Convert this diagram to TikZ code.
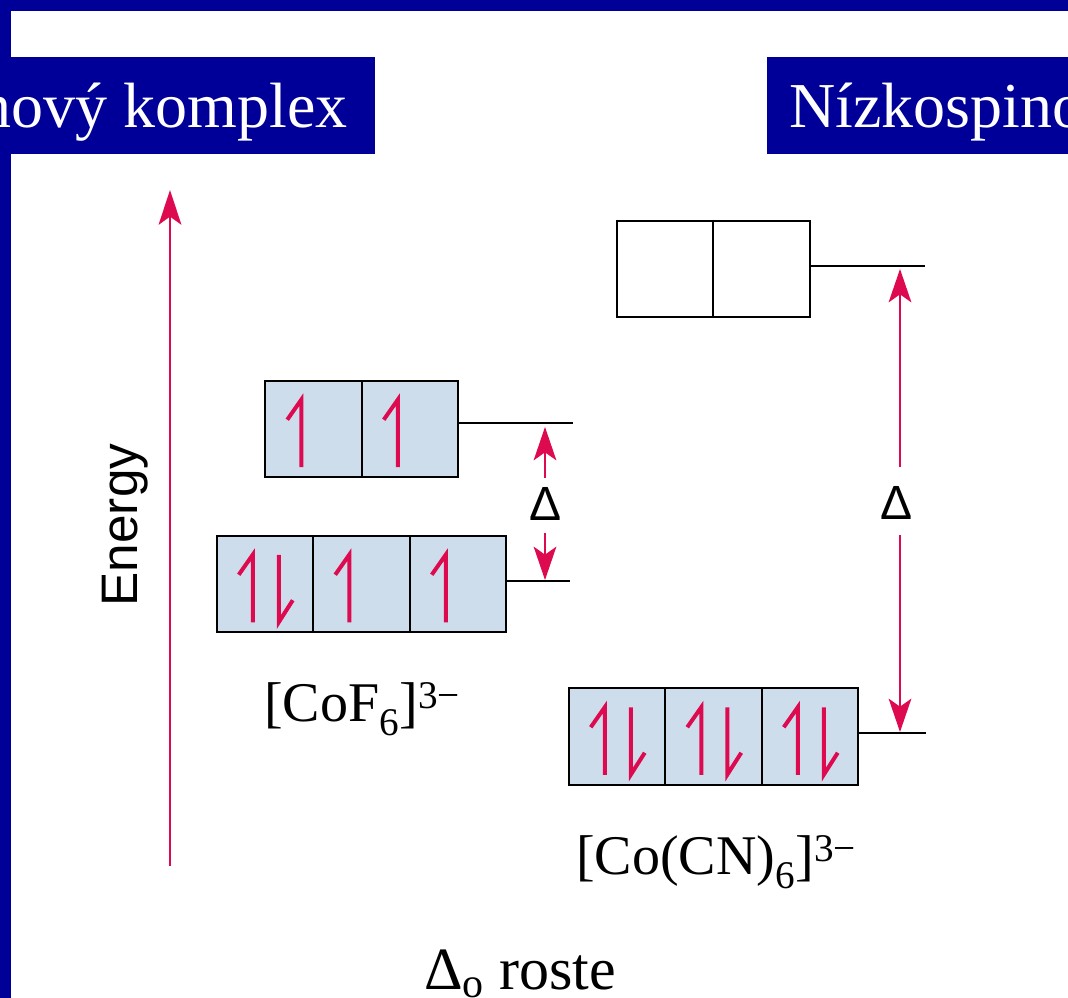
\documentclass[tikz,border=0pt]{standalone}
\usepackage{fontspec}
\setmainfont{Liberation Serif}
\newfontfamily\sansf{Liberation Sans}
\usetikzlibrary{arrows.meta,calc}
\definecolor{hdrblue}{RGB}{0,0,153}
\definecolor{spinred}{RGB}{222,10,80}
\definecolor{cellfill}{RGB}{206,221,236}
\newcommand\pxu{0.75pt}
\tikzset{
  cell/.style={draw=black, line width=1.5pt, fill=cellfill, minimum width=96.5*\pxu, minimum height=96.5*\pxu, inner sep=0pt, outer sep=0pt},
  emptycell/.style={cell, fill=white},
  spin/.style={draw=spinred, line width=3pt, line cap=butt, line join=miter},
  level/.style={draw=black, line width=1.4pt},
  gap/.style={draw=spinred, line width=1.5pt, -{Stealth[length=25pt,width=17pt,inset=6pt]}},
  axis/.style={draw=spinred, line width=2pt, -{Stealth[length=26pt,width=17pt,inset=6pt]}},
  hdrtext/.style={text=white, inner sep=0pt, font=\fontsize{48pt}{50pt}\selectfont},
  deltalbl/.style={inner sep=0pt, font=\sansf\fontsize{36pt}{38pt}\selectfont},
  formula/.style={anchor=base west, inner sep=0pt, font=\fontsize{42pt}{44pt}\selectfont}
}
\newcommand\spinup[1]{\draw[spin] ($(#1.north west)+(22,39)$) -- ($(#1.north west)+(36,19)$) -- ($(#1.south west)+(36,-10)$);}
\newcommand\spindown[1]{\draw[spin] ($(#1.north west)+(62,19)$) -- ($(#1.south west)+(62,-10)$) -- ($(#1.south west)+(76,-32)$);}
\begin{document}
\begin{tikzpicture}[x=0.75pt,y=-0.75pt]
\useasboundingbox (0,0) rectangle (1068,998);
\fill[white] (0,0) rectangle (1068,998);
\begin{scope}
\clip (0,0) rectangle (1068,998);
% frame bands
\fill[hdrblue] (0,0) rectangle (1068,10.7);
\fill[hdrblue] (0,0) rectangle (11,998);
% header boxes
\fill[hdrblue] (0,57) rectangle (375,154);
\fill[hdrblue] (767,57) rectangle (1068,154);
\node[hdrtext, anchor=base east] (hL) at (348,128) {nový komplex};
\node[hdrtext, anchor=base west] (hR) at (789,128) {Nízkospino};
\end{scope}

% energy axis
\coordinate (Ebot) at (170,866);
\coordinate (Etop) at (170,190);
\draw[axis] (Ebot) -- (Etop);
\node[rotate=90, anchor=base, inner sep=0pt, font=\sansf\fontsize{38.5pt}{40pt}\selectfont] (energy) at (137,525) {Energy};

% CoF6 eg
\node[cell] (a1) at (313.5,429) {};
\node[cell] (a2) at (410,429) {};
% CoF6 t2g
\node[cell] (b1) at (265,584) {};
\node[cell] (b2) at (361.5,584) {};
\node[cell] (b3) at (458,584) {};
% Co(CN)6 eg (empty)
\node[emptycell] (e1) at (665,269) {};
\node[emptycell] (e2) at (761.5,269) {};
% Co(CN)6 t2g
\node[cell] (c1) at (617,736.5) {};
\node[cell] (c2) at (713.5,736.5) {};
\node[cell] (c3) at (810,736.5) {};

% electrons
\spinup{a1}\spinup{a2}
\spinup{b1}\spindown{b1}\spinup{b2}\spinup{b3}
\spinup{c1}\spindown{c1}\spinup{c2}\spindown{c2}\spinup{c3}\spindown{c3}

% level lines
\coordinate (LA) at (573,423);
\coordinate (LB) at (570,581);
\coordinate (LC) at (926,733);
\coordinate (LE) at (925,266);
\draw[level] (a2.east |- LA) -- (LA);
\draw[level] (b3.east |- LB) -- (LB);
\draw[level] (c3.east |- LC) -- (LC);
\draw[level] (e2.east |- LE) -- (LE);

% splitting arrows, CoF6
\node[deltalbl] (dA) at (546,504) {Δ};
\coordinate (dAu) at (545,478);
\coordinate (dAut) at (545,427);
\coordinate (dAl) at (545,533);
\coordinate (dAlt) at (545,580);
\draw[gap] (dAu) -- (dAut);
\draw[gap] (dAl) -- (dAlt);

% splitting arrows, Co(CN)6
\node[deltalbl] (dB) at (897,503) {Δ};
\coordinate (dBu) at (900,467);
\coordinate (dBut) at (900,269);
\coordinate (dBl) at (900,535);
\coordinate (dBlt) at (900,732);
\draw[gap] (dBu) -- (dBut);
\draw[gap] (dBl) -- (dBlt);

% formulas
\node[formula] (fF) at (264,721) {[CoF\textsubscript{6}]\textsuperscript{3−}};
\node[formula] (fCN) at (576,874) {[Co(CN)\textsubscript{6}]\textsuperscript{3−}};

% bottom caption
\begin{scope}
\clip (0,0) rectangle (1068,998);
\node[anchor=base west, inner sep=0pt, font=\fontsize{45pt}{48pt}\selectfont] (roste) at (424,989) {Δ\textsubscript{o} roste};
\end{scope}
\end{tikzpicture}
\end{document}
